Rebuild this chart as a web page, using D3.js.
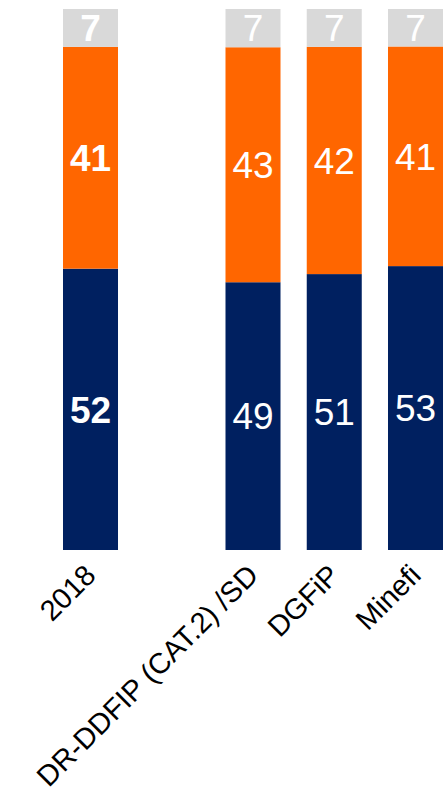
<!DOCTYPE html>
<html>
<head>
<meta charset="utf-8">
<script src="https://cdn.jsdelivr.net/npm/d3@7/dist/d3.min.js"></script>
<style>
  html, body { margin: 0; padding: 0; background: #fff; }
  svg { display: block; font-family: "Liberation Sans", Arial, sans-serif; }
</style>
</head>
<body>
<script>
// Categories along the x axis; the empty string is a spacer slot between 2018 and the 2019 groups
const categories = ["2018", "", "DR-DDFIP (CAT.2) /SD", "DGFiP", "Minefi"];
// Stacked shares (%), bottom to top
const seriesLow  = [52, null, 49, 51, 53];
const seriesMid  = [41, null, 43, 42, 41];
const seriesHigh = [7,  null, 7,  7,  7];
const seriesKeys = ["low", "mid", "high"];
const seriesColors = ["#002060", "#FF6600", "#D9D9D9"];
const boldCategories = ["2018"];

const width = 446, height = 793;
const svg = d3.select("body").append("svg")
  .attr("width", width).attr("height", height);

const rows = categories.map((c, i) => ({
  cat: c, low: seriesLow[i], mid: seriesMid[i], high: seriesHigh[i]
}));
const filled = rows.filter(r => r.low != null);

const x = d3.scaleBand()
  .domain(categories)
  .range([49.875, 456.125])
  .paddingInner(0.323)
  .paddingOuter(0.1615);

const y = d3.scaleLinear().domain([0, 1]).range([550, 9]);

const stacked = d3.stack()
  .keys(seriesKeys)
  .offset(d3.stackOffsetExpand)(filled);

const color = d3.scaleOrdinal().domain(seriesKeys).range(seriesColors);

const layers = svg.append("g").selectAll("g")
  .data(stacked).join("g")
  .attr("fill", d => color(d.key));

layers.selectAll("rect")
  .data(d => d.map(p => ({ p, key: d.key })))
  .join("rect")
  .attr("x", d => x(d.p.data.cat))
  .attr("width", x.bandwidth())
  .attr("y", d => y(d.p[1]))
  .attr("height", d => y(d.p[0]) - y(d.p[1]));

// Value labels centred in each segment
layers.selectAll("text")
  .data(d => d.map(p => ({ p, key: d.key })))
  .join("text")
  .attr("x", d => x(d.p.data.cat) + x.bandwidth() / 2)
  .attr("y", d => (y(d.p[0]) + y(d.p[1])) / 2)
  .attr("dy", "0.36em")
  .attr("text-anchor", "middle")
  .attr("fill", "#fff")
  .attr("font-size", 37)
  .attr("font-weight", d => boldCategories.includes(d.p.data.cat) ? "bold" : "normal")
  .text(d => d.p.data[d.key]);

// Category axis: no domain line or ticks, rotated labels
const xAxis = svg.append("g")
  .attr("transform", "translate(0,550)")
  .call(d3.axisBottom(x).tickSize(0).tickPadding(0));
xAxis.select(".domain").remove();
xAxis.selectAll("text")
  .attr("font-family", "Liberation Sans, Arial, sans-serif")
  .attr("font-size", 29)
  .attr("fill", "#000")
  .attr("text-anchor", "end")
  .attr("dy", 0)
  .attr("y", 0)
  .attr("transform", "translate(7,27) rotate(-45)");
</script>
</body>
</html>
